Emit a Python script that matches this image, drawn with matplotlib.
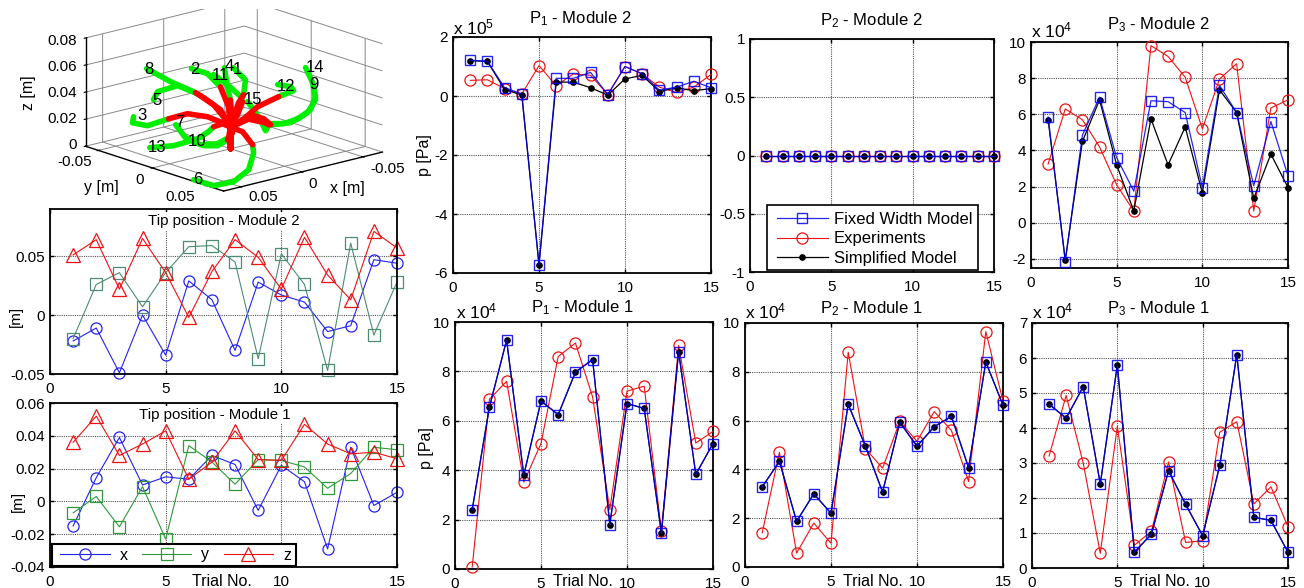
import matplotlib
matplotlib.use("Agg")
import matplotlib.pyplot as plt
from matplotlib.patches import Rectangle
import numpy as np

plt.rcParams.update({
    'font.family': ['Liberation Sans', 'DejaVu Sans'],
    'mathtext.default': 'regular',
    'axes.unicode_minus': False,
    'font.size': 11,
})

W, H = 1304, 588
trials = list(range(1, 16))

# Tip positions [m]
tip2_x = [-0.022, -0.011, -0.049, 0.0, -0.034, 0.029, 0.013, -0.030, 0.028, 0.017, 0.011, -0.014, -0.009, 0.047, 0.044]
tip2_y = [-0.020, 0.026, 0.036, 0.007, 0.036, 0.058, 0.059, 0.045, -0.037, 0.052, 0.026, -0.047, 0.061, -0.017, 0.028]
tip2_z = [0.051, 0.064, 0.022, 0.065, 0.036, -0.002, 0.037, 0.064, 0.049, 0.022, 0.066, 0.034, 0.013, 0.071, 0.057]
tip1_x = [-0.015, 0.0145, 0.039, 0.010, 0.015, 0.0135, 0.028, 0.0225, -0.0055, 0.022, 0.012, -0.029, 0.033, -0.0025, 0.0055]
tip1_y = [-0.007, 0.003, -0.0155, 0.009, -0.023, 0.034, 0.024, 0.0105, 0.0255, 0.025, 0.021, 0.008, 0.017, 0.033, 0.0315]
tip1_z = [0.036, 0.052, 0.028, 0.035, 0.043, 0.0135, 0.024, 0.043, 0.0255, 0.025, 0.047, 0.035, 0.029, 0.030, 0.026]

# Pressures (in units of the panel multiplier)
p1m2_fixed = [1.21, 1.18, 0.28, 0.07, -5.72, 0.60, 0.60, 0.80, 0.05, 1.00, 0.75, 0.20, 0.30, 0.50, 0.28]
p1m2_exp = [0.53, 0.55, 0.25, 0.07, 1.03, 0.35, 0.75, 0.70, 0.05, 1.00, 0.75, 0.30, 0.12, 0.30, 0.73]
p1m2_simp = [1.20, 1.17, 0.22, 0.03, -5.72, 0.47, 0.47, 0.28, 0.03, 0.58, 0.70, 0.15, 0.28, 0.18, 0.25]
p2m2_fixed = [0] * 15
p2m2_exp = [0] * 15
p2m2_simp = [0] * 15
p3m2_fixed = [5.85, -2.15, 4.85, 6.95, 3.60, 1.75, 6.75, 6.70, 6.10, 1.95, 7.60, 6.10, 2.05, 5.60, 2.60]
p3m2_exp = [3.25, 6.30, 5.70, 4.20, 2.10, 0.65, 9.80, 9.20, 8.05, 5.20, 7.95, 8.80, 0.65, 6.35, 6.80]
p3m2_simp = [5.70, -2.05, 4.50, 6.80, 3.20, 0.65, 5.75, 3.20, 5.30, 1.65, 7.35, 6.10, 1.35, 3.80, 1.95]
p1m1_fixed = [2.40, 6.55, 9.27, 3.80, 6.80, 6.25, 7.97, 8.48, 1.80, 6.70, 6.50, 1.45, 8.80, 3.83, 5.08]
p1m1_exp = [0.08, 6.87, 7.60, 3.52, 5.08, 8.60, 9.15, 6.97, 2.40, 7.20, 7.40, 1.55, 9.05, 5.10, 5.57]
p2m1_fixed = [3.28, 4.33, 1.87, 3.00, 2.20, 6.67, 4.95, 3.07, 5.93, 4.95, 5.75, 6.17, 4.07, 8.40, 6.63]
p2m1_exp = [1.40, 4.70, 0.57, 1.80, 0.97, 8.80, 4.85, 4.05, 5.97, 5.15, 6.37, 5.60, 3.50, 9.65, 6.80]
p3m1_fixed = [4.68, 4.28, 5.18, 2.40, 5.80, 0.45, 0.97, 2.78, 1.82, 0.92, 2.93, 6.10, 1.45, 1.36, 0.45]
p3m1_exp = [3.20, 4.93, 3.00, 0.42, 4.05, 0.65, 1.05, 3.03, 0.73, 0.78, 3.88, 4.18, 1.83, 2.32, 1.18]

# 3D backbone paths [mm]: common stem, then red part (module 1), then green part (module 2)
stem = [(0, 0, 0), (0, 0, 16)]
red_1 = [(-29.4, -26, 20.7), (-36.2, -29, 24.3)]
green_1 = [(-45.5, -37.7, 31), (-46.6, -50.2, 36.5)]
red_2 = [(-22.5, -27.4, 18.9), (-29.9, -43.3, 27.9)]
green_2 = [(-23.2, -47.7, 38), (-15.2, -53.5, 42)]
red_3 = [(-10.8, -19.7, 11.7), (-7.2, -29.5, 14.4), (0.5, -39.4, 15.8), (12.2, -43.7, 13.5)]
green_3 = [(25.9, -47.7, 10.4), (31.2, -55.6, 11.7), (27.3, -59, 14.4)]
red_4 = [(-20.6, -22.4, 16.2), (-27.3, -31.1, 22)]
green_4 = [(-33.2, -40.5, 27.9), (-42.4, -53.8, 36.5)]
red_5 = [(-14.6, -23.1, 14.4), (-16.7, -34.7, 19.8), (-15.6, -45.6, 23.9)]
green_5 = [(-14.9, -49.5, 25.2), (-3.7, -53.3, 32), (10.4, -55.9, 30), (19.9, -48.9, 28)]
red_6 = [(-15.1, -6, 7.7), (-12.5, 6.3, 1.8)]
green_6 = [(-5, 15.7, 0), (21.7, 41.3, 0), (45.9, 54.8, 0), (60.9, 53.3, 0), (61.6, 35.6, 0)]
red_7 = [(-5.2, -7.8, 5)]
green_7 = [(3.3, -8.4, 2.3), (11.8, -14.5, 1.8), (14.9, -25, 5), (12.2, -37.1, 10.8)]
red_8 = [(-8.6, -19.1, 22), (-4.4, -30.1, 29), (-2, -34.8, 32)]
green_8 = [(9.4, -45, 40), (21.2, -53.8, 50)]
red_9 = [(-15.5, 1, 22), (-17.8, 10.5, 21), (-18.2, 16.5, 18)]
green_9 = [(-26.6, 25.5, 20), (-29.5, 38, 30), (-28.6, 46.4, 42), (-30.8, 42, 50)]
red_10 = [(-9.8, -9.3, 7.2), (-3.6, -6.9, 4)]
green_10 = [(4.4, -7.1, 1.4), (10.9, -12.7, 1.4)]
red_11 = [(-15.3, -10.9, 19), (-22.6, -14.5, 26)]
green_11 = [(-23.2, -17, 29), (-20.7, -26.2, 36), (-16.9, -34.9, 42)]
red_12 = [(-8.6, -0.4, 18), (-18.6, 4, 28), (-23.4, 18.1, 38)]
green_12 = [(-27.4, 27.4, 44), (-25.9, 26.3, 47), (-20.8, 20.1, 48)]
red_13 = [(-10.3, -19.1, 11.3), (-4.4, -20.7, 9.9)]
green_13 = [(0.8, -19.6, 7.7), (9.8, -19.5, 4.5), (24.9, -24.6, 1.4), (37.1, -32.9, 0.5)]
red_14 = [(-12, 3, 20), (-19, 14, 18)]
green_14 = [(-23.8, 22.2, 19), (-28.3, 31, 24), (-31.3, 38.7, 32), (-32.9, 41.5, 42), (-32.2, 39.5, 52), (-31.1, 34.3, 62)]
red_15 = [(-13.6, 0.3, 20), (-17.4, 10.9, 19), (-19.1, 13.6, 17)]
green_15 = [(-18.9, 11.1, 12), (-16.3, 7.5, 22), (-11.5, 2.7, 33)]
reds = [red_1, red_2, red_3, red_4, red_5, red_6, red_7, red_8, red_9, red_10, red_11, red_12, red_13, red_14, red_15]
greens = [green_1, green_2, green_3, green_4, green_5, green_6, green_7, green_8, green_9, green_10, green_11, green_12, green_13, green_14, green_15]
label_text = ['8', '2', '4', '1', '11', '5', '3', '7', '10', '13', '6', '14', '9', '12', '15']
label_pos = [(21.7, -51.4, 50), (-15.1, -50.6, 42), (-31.9, -37.1, 44), (-31.4, -29.1, 44), (-18.6, -30.5, 42),
             (19.9, -46.1, 28), (23.2, -56.2, 15), (7.8, -38.5, 11), (9.6, -20.6, 2), (33.1, -31.1, 0),
             (59.8, 37.2, 0), (-39.1, 33.5, 60), (-37.6, 34.4, 48), (-25.5, 22.1, 46), (-22.5, -5, 30)]

fig = plt.figure(figsize=(W / 100, H / 100), dpi=100, facecolor='white')


def axpx(l, t, r, b, **kw):
    return fig.add_axes([l / W, 1 - b / H, (r - l) / W, (b - t) / H], **kw)


def ftext(x, y, s, **kw):
    kw.setdefault('ha', 'center')
    kw.setdefault('va', 'center')
    return fig.text(x / W, 1 - y / H, s, **kw)


def style(ax, xlim, ylim, yticks, ylabels):
    ax.set_xlim(xlim)
    ax.set_ylim(ylim)
    ax.set_xticks([0, 5, 10, 15])
    ax.set_xticklabels(['0', '5', '10', '15'])
    ax.set_yticks(yticks)
    ax.set_yticklabels(ylabels)
    ax.tick_params(direction='in', top=True, right=True, length=3, width=1, labelsize=11, pad=3.5)
    ax.tick_params(axis='x', pad=5.5)
    ax.grid(True, color='#555555', ls=(0, (1, 1)), lw=0.8)
    ax.set_axisbelow(True)
    for s in ax.spines.values():
        s.set_linewidth(1.3)


def legend_frame(ax, l, t, r, b, lw):
    ax.add_patch(Rectangle((l / W, 1 - b / H), (r - l) / W, (b - t) / H, transform=fig.transFigure,
                           facecolor='white', edgecolor='black', lw=lw, clip_on=False, zorder=9))


# ---------- 3D panel ----------
ax3 = fig.add_axes([75.3 / W, 1 - 253.7 / H, 309 / W, 309 / H], projection='3d', proj_type='ortho')
ax3.patch.set_alpha(0)
ax3.computed_zorder = False
ax3.view_init(elev=16.4, azim=49)
ax3.set_xlim(-0.066, 0.064, view_margin=0)
ax3.set_ylim(-0.062, 0.066, view_margin=0)
ax3.set_zlim(0, 0.08, view_margin=0)
ax3.set_box_aspect((210, 210, 112.6))
for r, g in zip(reds, greens):
    pts = np.array([r[-1]] + g) / 1000
    ax3.plot(pts[:, 0], pts[:, 1], pts[:, 2], color='#00ee00', lw=4.0, solid_capstyle='round', zorder=2)
for r in reds:
    pts = np.array(stem + r) / 1000
    ax3.plot(pts[:, 0], pts[:, 1], pts[:, 2], color='#ff0000', lw=4.0, solid_capstyle='round', zorder=3)
for t, p in zip(label_text, label_pos):
    ax3.text(p[0] / 1000, p[1] / 1000, p[2] / 1000, t, fontsize=12, ha='center', va='center', zorder=5)
ax3.set_xticks([-0.05, 0, 0.05])
ax3.set_xticklabels(['', '', ''])
ax3.set_yticks([-0.05, 0, 0.05])
ax3.set_yticklabels(['', '', ''])
ax3.set_zticks([0, 0.02, 0.04, 0.06, 0.08])
ax3.set_zticklabels(['', '', '', '', ''])
for a in (ax3.xaxis, ax3.yaxis, ax3.zaxis):
    a.set_pane_color((1, 1, 1, 0))
    a._axinfo['grid'].update(color='#888888', linewidth=0.7)
    a._axinfo['tick'].update(inward_factor=0.1, outward_factor=0.1)
    a.line.set_linewidth(1.0)
for x, y, s in [(75, 162, '-0.05'), (140, 180, '0'), (180, 197, '0.05'),
                (388, 169, '-0.05'), (313, 184, '0'), (263, 197, '0.05')]:
    ftext(x, y, s, fontsize=11)
for y, s in [(145, '0'), (119, '0.02'), (93, '0.04'), (67, '0.06'), (41, '0.08')]:
    ftext(77, y, s, ha='right', fontsize=11)
ftext(28, 93, 'z [m]', rotation=90, fontsize=11.5)
ftext(101, 187, 'y [m]', fontsize=11.5)
ftext(347, 188, 'x [m]', fontsize=11.5)
fig.add_artist(Rectangle((0, 1 - 9 / H), 430 / W, 9 / H, transform=fig.transFigure, facecolor='white', edgecolor='none', zorder=2))

# ---------- Tip panels ----------
tip_rows = [
    ((50, 209, 397, 374), (-0.05, 0.09), [-0.05, 0, 0.05], ['-0.05', '0', '0.05'], (tip2_x, tip2_y, tip2_z), '#4d8c72'),
    ((50, 403, 397, 567), (-0.04, 0.06), [-0.04, -0.02, 0, 0.02, 0.04, 0.06], ['-0.04', '-0.02', '0', '0.02', '0.04', '0.06'], (tip1_x, tip1_y, tip1_z), '#2e9a3a'),
]
tip_axes = []
for box, yl, yt, ytl, (sx, sy, sz), gc in tip_rows:
    ax = axpx(*box)
    style(ax, (0, 15), yl, yt, ytl)
    ax.plot(trials, sx, '-o', color='#2222ee', lw=0.8, ms=8, mfc='none', mew=0.9, clip_on=False, label='x')
    ax.plot(trials, sy, '-s', color=gc, lw=0.8, ms=8, mfc='none', mew=0.9, clip_on=False, label='y')
    ax.plot(trials, sz, '-^', color='#ee1111', lw=0.8, ms=9.5, mfc='none', mew=0.9, clip_on=False, label='z')
    tip_axes.append(ax)

white = dict(facecolor='white', edgecolor='none', pad=1.5)
ftext(224, 221, 'Tip position - Module 2', fontsize=10.8, bbox=white)
ftext(215, 415, 'Tip position - Module 1', fontsize=10.8, bbox=white)
ftext(16, 316, '[m]', rotation=90, fontsize=11)
ftext(18, 501, '[m]', rotation=90, fontsize=11)
ftext(222, 581, 'Trial No.', fontsize=11.5)
legend_frame(tip_axes[1], 52, 544, 296, 566, 1.5)
leg = tip_axes[1].legend(loc='center left', bbox_to_anchor=(60 / W, 1 - 555 / H),
                         bbox_transform=fig.transFigure, ncol=3, borderaxespad=0, frameon=False,
                         fontsize=11.5, handlelength=3.1, borderpad=0,
                         columnspacing=0.9, handletextpad=0.62)
leg.set_zorder(10)

# ---------- Pressure panels ----------
panels = [
    ((453, 37, 711, 273), (-6, 2), [-6, -4, -2, 0, 2], ['-6', '-4', '-2', '0', '2'], p1m2_fixed, p1m2_exp, p1m2_simp),
    ((750, 39, 994, 272), (-1, 1), [-1, -0.5, 0, 0.5, 1], ['-1', '-0.5', '0', '0.5', '1'], p2m2_fixed, p2m2_exp, p2m2_simp),
    ((1031, 42, 1288, 268), (-2.5, 10), [-2, 0, 2, 4, 6, 8, 10], ['-2', '0', '2', '4', '6', '8', '10'], p3m2_fixed, p3m2_exp, p3m2_simp),
    ((455, 322, 713, 569), (0, 10), [0, 2, 4, 6, 8, 10], ['0', '2', '4', '6', '8', '10'], p1m1_fixed, p1m1_exp, p1m1_fixed),
    ((745, 323, 1003, 567), (0, 10), [0, 2, 4, 6, 8, 10], ['0', '2', '4', '6', '8', '10'], p2m1_fixed, p2m1_exp, p2m1_fixed),
    ((1032, 323, 1288, 568), (0, 7), [0, 1, 2, 3, 4, 5, 6, 7], ['0', '1', '2', '3', '4', '5', '6', '7'], p3m1_fixed, p3m1_exp, p3m1_fixed),
]
p_axes = []
for box, yl, yt, ytl, fx, ex, si in panels:
    ax = axpx(*box)
    style(ax, (0, 15), yl, yt, ytl)
    ax.plot(trials, ex, '-o', color='#ee1111', lw=0.8, ms=8, mfc='none', mew=0.9, clip_on=False, zorder=3, label='Experiments')
    ax.plot(trials, si, '-o', color='black', lw=0.9, ms=3.8, clip_on=False, zorder=4, label='Simplified Model')
    ax.plot(trials, fx, '-s', color='#0000ee', lw=0.9, ms=7.5, mfc='none', mew=1.0, alpha=0.85, clip_on=False, zorder=5, label='Fixed Width Model')
    p_axes.append(ax)

h, l = p_axes[1].get_legend_handles_labels()
order = [2, 0, 1]
legend_frame(p_axes[1], 767, 205, 978, 270, 1.2)
leg2 = p_axes[1].legend([h[i] for i in order], [l[i] for i in order], loc='center left',
                        bbox_to_anchor=(777 / W, 1 - 239 / H), bbox_transform=fig.transFigure,
                        borderaxespad=0, frameon=False, fontsize=12, handlelength=3.05,
                        labelspacing=0.27, borderpad=0, handletextpad=0.35)
leg2.set_zorder(10)

titles = [(580, 19, 'P$_1$ - Module 2'), (871, 21, 'P$_2$ - Module 2'), (1158, 25, 'P$_3$ - Module 2'),
          (582, 308, 'P$_1$ - Module 1'), (871, 309, 'P$_2$ - Module 1'), (1158, 309, 'P$_3$ - Module 1')]
for x, y, s in titles:
    ftext(x, y, s, fontsize=12)
multipliers = [(453, 27, 'x 10$^5$'), (1031, 30, 'x 10$^4$'), (456, 311, 'x 10$^4$'), (745, 311, 'x 10$^4$'), (1032, 311, 'x 10$^4$')]
for x, y, s in multipliers:
    ftext(x, y, s, ha='left', fontsize=12.5)
ftext(424, 155, 'p [Pa]', rotation=90, fontsize=11.5)
ftext(427, 448, 'p [Pa]', rotation=90, fontsize=11.5)
ftext(583, 582, 'Trial No.', fontsize=11.5)
ftext(873, 582, 'Trial No.', fontsize=11.5)
ftext(1160, 582, 'Trial No.', fontsize=11.5)

fig.savefig('out.png', dpi=100)
